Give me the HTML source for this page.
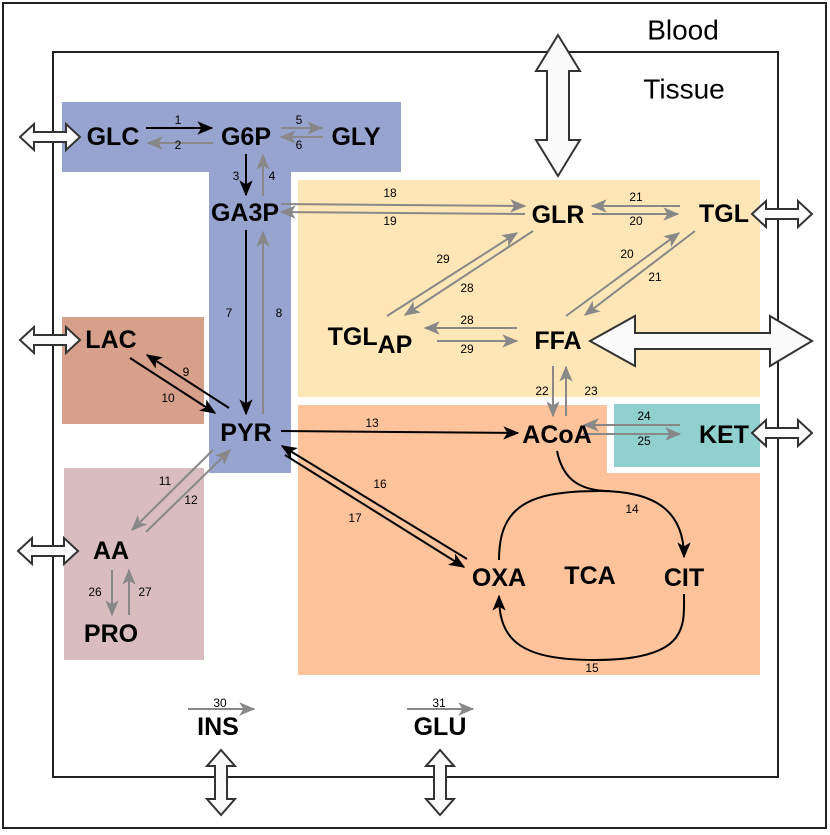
<!DOCTYPE html>
<html><head><meta charset="utf-8"><style>
html,body{margin:0;padding:0;background:#fff;}
svg{display:block;}
text{font-family:"Liberation Sans",Arial,sans-serif;}
.n{font-weight:bold;font-size:25px;text-anchor:middle;dominant-baseline:central;}
.l{font-size:12px;text-anchor:middle;dominant-baseline:central;}
.k{stroke:#000;stroke-width:2;fill:none;}
.g{stroke:#888;stroke-width:2;fill:none;}
.d{fill:#fbfbfc;stroke:#333;stroke-width:2;stroke-linejoin:miter;}
</style></head><body>
<svg width="830" height="835" viewBox="0 0 830 835" xmlns="http://www.w3.org/2000/svg">
<defs>
<marker id="ak" viewBox="0 0 12 10" refX="11" refY="5" markerWidth="8" markerHeight="7" markerUnits="strokeWidth" orient="auto"><path d="M0,0 L12,5 L0,10 L3,5 Z" fill="#000"/></marker>
<marker id="ag" viewBox="0 0 12 10" refX="11" refY="5" markerWidth="8" markerHeight="7" markerUnits="strokeWidth" orient="auto"><path d="M0,0 L12,5 L0,10 L3,5 Z" fill="#888"/></marker>
</defs>
<rect x="3" y="3" width="823" height="825" fill="none" stroke="#222" stroke-width="2"/>
<rect x="53" y="52" width="725" height="725" fill="none" stroke="#222" stroke-width="2"/>
<text x="683" y="30" font-size="28" text-anchor="middle" dominant-baseline="central">Blood</text>
<text x="684" y="89" font-size="28" text-anchor="middle" dominant-baseline="central">Tissue</text>

<rect x="62" y="102" width="339" height="70" fill="#98a4d0"/>
<rect x="209" y="172" width="82" height="301" fill="#98a4d0"/>
<rect x="298" y="180" width="462" height="217" fill="#fee6b6"/>
<rect x="298" y="405" width="462" height="270" fill="#fec39b"/>
<rect x="607" y="400" width="160" height="73" fill="#fff"/>
<rect x="614" y="404" width="146" height="63" fill="#90d1cf"/>
<rect x="62" y="317" width="142" height="107" fill="#d7a08b"/>
<rect x="64" y="468" width="140" height="192" fill="#d8bcc0"/>

<polygon class="d" points="20,137 34,124 34,132 66,132 66,124 80,137 66,150 66,142 34,142 34,150"/>
<polygon class="d" points="20,340 34,327 34,335 66,335 66,327 80,340 66,353 66,345 34,345 34,353"/>
<polygon class="d" points="18,551 32,538 32,546 64,546 64,538 78,551 64,564 64,556 32,556 32,564"/>
<polygon class="d" points="752,214 766,201 766,209 798,209 798,201 812,214 798,227 798,219 766,219 766,227"/>
<polygon class="d" points="752,433 766,420 766,428 798,428 798,420 812,433 798,446 798,438 766,438 766,446"/>
<polygon class="d" points="590,341 635,316 635,333 770,333 770,316 812,341 770,366 770,349 635,349 635,366"/>
<polygon class="d" points="558,35 536,71 547,71 547,140 536,140 558,176 580,140 569,140 569,71 580,71"/>
<polygon class="d" points="221,750 207,766 215,766 215,799 207,799 221,815 235,799 227,799 227,766 235,766"/>
<polygon class="d" points="440,750 426,766 434,766 434,799 426,799 440,815 454,799 446,799 446,766 454,766"/>

<line class="k" x1="146" y1="128" x2="212" y2="128" marker-end="url(#ak)"/>
<line class="g" x1="213" y1="143" x2="148" y2="143" marker-end="url(#ag)"/>
<line class="g" x1="281" y1="128" x2="322" y2="128" marker-end="url(#ag)"/>
<line class="g" x1="323" y1="137" x2="281" y2="137" marker-end="url(#ag)"/>
<line class="k" x1="246" y1="154" x2="246" y2="195" marker-end="url(#ak)"/>
<line class="g" x1="263" y1="196" x2="263" y2="155" marker-end="url(#ag)"/>
<line class="k" x1="246" y1="230" x2="246" y2="414" marker-end="url(#ak)"/>
<line class="g" x1="263" y1="414" x2="263" y2="232" marker-end="url(#ag)"/>
<line class="g" x1="281" y1="204" x2="525" y2="206" marker-end="url(#ag)"/>
<line class="g" x1="525" y1="214" x2="281" y2="212" marker-end="url(#ag)"/>
<line class="g" x1="680" y1="206" x2="592" y2="206" marker-end="url(#ag)"/>
<line class="g" x1="592" y1="214" x2="678" y2="214" marker-end="url(#ag)"/>
<line class="g" x1="387" y1="316" x2="517" y2="233" marker-end="url(#ag)"/>
<line class="g" x1="533" y1="231" x2="405" y2="315" marker-end="url(#ag)"/>
<line class="g" x1="566" y1="316" x2="679" y2="233" marker-end="url(#ag)"/>
<line class="g" x1="695" y1="231" x2="585" y2="315" marker-end="url(#ag)"/>
<line class="g" x1="517" y1="328" x2="425" y2="328" marker-end="url(#ag)"/>
<line class="g" x1="437" y1="341" x2="517" y2="341" marker-end="url(#ag)"/>
<line class="g" x1="553" y1="366" x2="553" y2="416" marker-end="url(#ag)"/>
<line class="g" x1="566" y1="416" x2="566" y2="367" marker-end="url(#ag)"/>
<line class="g" x1="680" y1="425" x2="584" y2="425" marker-end="url(#ag)"/>
<line class="g" x1="583" y1="434" x2="680" y2="434" marker-end="url(#ag)"/>
<line class="k" x1="281" y1="431" x2="518" y2="433" marker-end="url(#ak)"/>
<line class="k" x1="229" y1="408" x2="147" y2="355" marker-end="url(#ak)"/>
<line class="k" x1="130" y1="358" x2="215" y2="413" marker-end="url(#ak)"/>
<line class="g" x1="213" y1="450" x2="132" y2="530" marker-end="url(#ag)"/>
<line class="g" x1="146" y1="532" x2="230" y2="450" marker-end="url(#ag)"/>
<line class="k" x1="467" y1="559" x2="282" y2="446" marker-end="url(#ak)"/>
<line class="k" x1="285" y1="455" x2="464" y2="567" marker-end="url(#ak)"/>
<line class="g" x1="112" y1="570" x2="112" y2="615" marker-end="url(#ag)"/>
<line class="g" x1="129" y1="615" x2="129" y2="570" marker-end="url(#ag)"/>
<path class="k" d="M499,560 C499,505 530,491 600,491 C660,491 684,515 684,557" marker-end="url(#ak)"/>
<path class="k" d="M557,451 C562,475 575,491 610,491"/>
<path class="k" d="M684,594 C684,625 690,660 595,660 C520,660 499,640 499,596" marker-end="url(#ak)"/>
<line class="g" x1="188" y1="709" x2="254" y2="709" marker-end="url(#ag)"/>
<line class="g" x1="407" y1="709" x2="473" y2="709" marker-end="url(#ag)"/>

<text class="l" x="178" y="120">1</text><text class="l" x="178" y="145">2</text>
<text class="l" x="299" y="120">5</text><text class="l" x="299" y="145">6</text>
<text class="l" x="236" y="176">3</text><text class="l" x="272" y="176">4</text>
<text class="l" x="229" y="313">7</text><text class="l" x="279" y="313">8</text>
<text class="l" x="390" y="193">18</text><text class="l" x="390" y="221">19</text>
<text class="l" x="636" y="197">21</text><text class="l" x="636" y="221">20</text>
<text class="l" x="443" y="259">29</text><text class="l" x="467" y="288">28</text>
<text class="l" x="627" y="254">20</text><text class="l" x="655" y="277">21</text>
<text class="l" x="467" y="320">28</text><text class="l" x="467" y="349">29</text>
<text class="l" x="542" y="391">22</text><text class="l" x="591" y="391">23</text>
<text class="l" x="644" y="416">24</text><text class="l" x="644" y="441">25</text>
<text class="l" x="372" y="423">13</text>
<text class="l" x="186" y="372">9</text><text class="l" x="168" y="398">10</text>
<text class="l" x="165" y="481">11</text><text class="l" x="191" y="500">12</text>
<text class="l" x="380" y="484">16</text><text class="l" x="355" y="518">17</text>
<text class="l" x="95" y="592">26</text><text class="l" x="145" y="592">27</text>
<text class="l" x="632" y="509">14</text><text class="l" x="592" y="668">15</text>
<text class="l" x="220" y="703">30</text><text class="l" x="439" y="703">31</text>

<text class="n" x="113" y="137">GLC</text>
<text class="n" x="246" y="137">G6P</text>
<text class="n" x="356" y="137">GLY</text>
<text class="n" x="245" y="213">GA3P</text>
<text class="n" x="111" y="340">LAC</text>
<text class="n" x="246" y="433">PYR</text>
<text class="n" x="111" y="551">AA</text>
<text class="n" x="111" y="634">PRO</text>
<text class="n" x="558" y="215">GLR</text>
<text class="n" x="724" y="214">TGL</text>
<text class="n" x="370" y="337">TGL<tspan dy="8">AP</tspan></text>
<text class="n" x="558" y="341">FFA</text>
<text class="n" x="557" y="435">ACoA</text>
<text class="n" x="724" y="435">KET</text>
<text class="n" x="499" y="578">OXA</text>
<text class="n" x="590" y="576" font-size="30">TCA</text>
<text class="n" x="684" y="578">CIT</text>
<text class="n" x="218" y="727">INS</text>
<text class="n" x="440" y="727">GLU</text>
</svg>
</body></html>
